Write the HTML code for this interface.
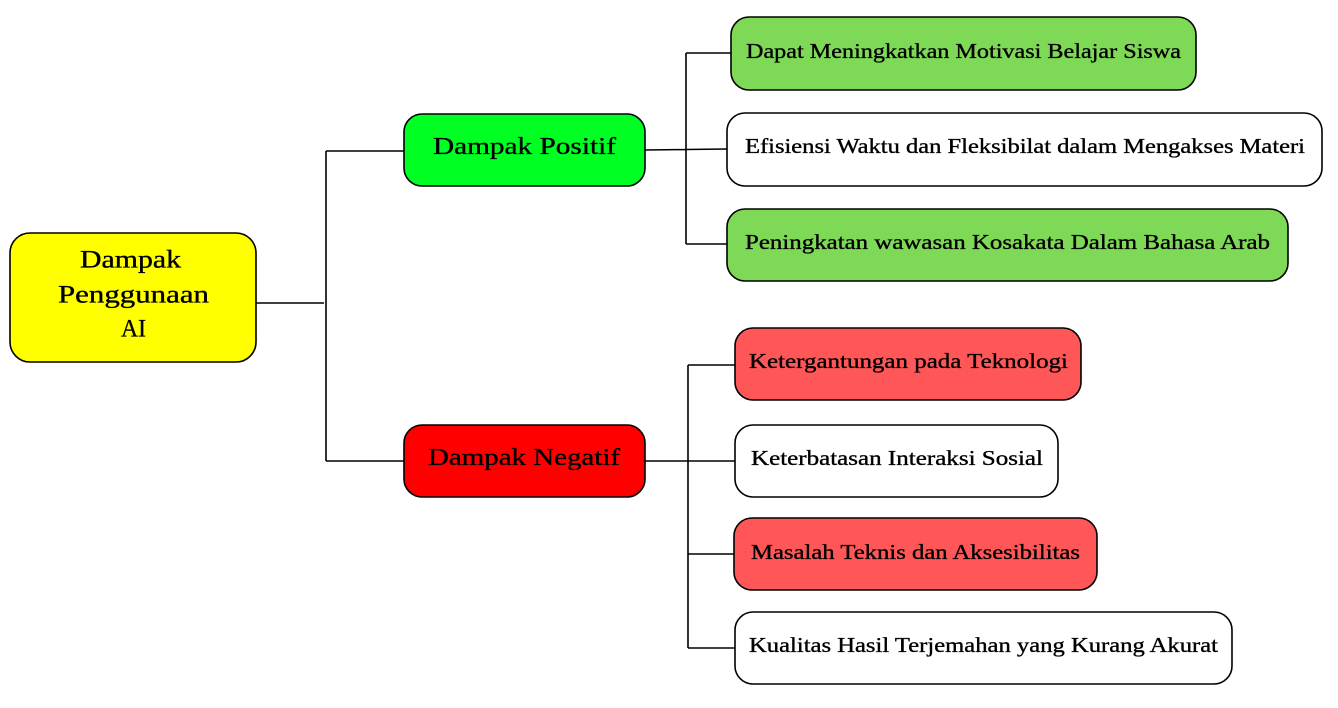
<!DOCTYPE html>
<html><head><meta charset="utf-8"><style>html,body{margin:0;padding:0;background:#fff}</style></head>
<body>
<svg width="1338" height="703" viewBox="0 0 1338 703" xmlns="http://www.w3.org/2000/svg" font-family="'Liberation Serif', serif">
<g stroke="#000" stroke-width="1.6" fill="none">
<path d="M256 303 L324 303 M326 151 L326 461 M326 151 L404 151 M326 461 L404 461"/>
<path d="M645 150 L727 149 M686 53 L686 244 M686 53 L731 53 M686 244 L727 244"/>
<path d="M645 461 L735 461 M688 365 L688 648 M688 365 L735 365 M688 554 L734 554 M688 648 L735 648"/>
</g>
<g stroke="#000" stroke-width="1.6">
<rect x="10" y="233" width="246" height="129" rx="20" fill="#ffff00"/>
<rect x="404" y="114" width="241" height="72" rx="18" fill="#00ff22"/>
<rect x="404" y="425" width="241" height="72" rx="18" fill="#ff0000"/>
<rect x="731" y="17" width="465" height="73" rx="18" fill="#7ed957"/>
<rect x="727" y="113" width="595" height="73" rx="18" fill="#fff"/>
<rect x="727" y="209" width="561" height="72" rx="18" fill="#7ed957"/>
<rect x="735" y="328" width="346" height="72" rx="18" fill="#ff5757"/>
<rect x="735" y="425" width="323" height="72" rx="18" fill="#fff"/>
<rect x="734" y="518" width="363" height="72" rx="18" fill="#ff5757"/>
<rect x="735" y="612" width="497" height="72" rx="18" fill="#fff"/>
</g>
<g fill="#000" stroke="#000" stroke-width="0.35" dominant-baseline="central">
<text x="80" y="260" font-size="25" textLength="101" lengthAdjust="spacingAndGlyphs">Dampak</text>
<text x="58" y="295" font-size="25" textLength="151" lengthAdjust="spacingAndGlyphs">Penggunaan</text>
<text x="121" y="329" font-size="25" textLength="25" lengthAdjust="spacingAndGlyphs">AI</text>
<text x="433" y="147" font-size="24" textLength="183" lengthAdjust="spacingAndGlyphs">Dampak Positif</text>
<text x="428" y="458" font-size="24" textLength="192" lengthAdjust="spacingAndGlyphs">Dampak Negatif</text>
<text x="746" y="51" font-size="21" textLength="435" lengthAdjust="spacingAndGlyphs">Dapat Meningkatkan Motivasi Belajar Siswa</text>
<text x="745" y="146" font-size="21" textLength="560" lengthAdjust="spacingAndGlyphs">Efisiensi Waktu dan Fleksibilat dalam Mengakses Materi</text>
<text x="745" y="242" font-size="21" textLength="525" lengthAdjust="spacingAndGlyphs">Peningkatan wawasan Kosakata Dalam Bahasa Arab</text>
<text x="749" y="361" font-size="21" textLength="319" lengthAdjust="spacingAndGlyphs">Ketergantungan pada Teknologi</text>
<text x="751" y="458" font-size="21" textLength="292" lengthAdjust="spacingAndGlyphs">Keterbatasan Interaksi Sosial</text>
<text x="751" y="552" font-size="21" textLength="329" lengthAdjust="spacingAndGlyphs">Masalah Teknis dan Aksesibilitas</text>
<text x="749" y="645" font-size="21" textLength="469" lengthAdjust="spacingAndGlyphs">Kualitas Hasil Terjemahan yang Kurang Akurat</text>
</g>
</svg>
</body></html>
